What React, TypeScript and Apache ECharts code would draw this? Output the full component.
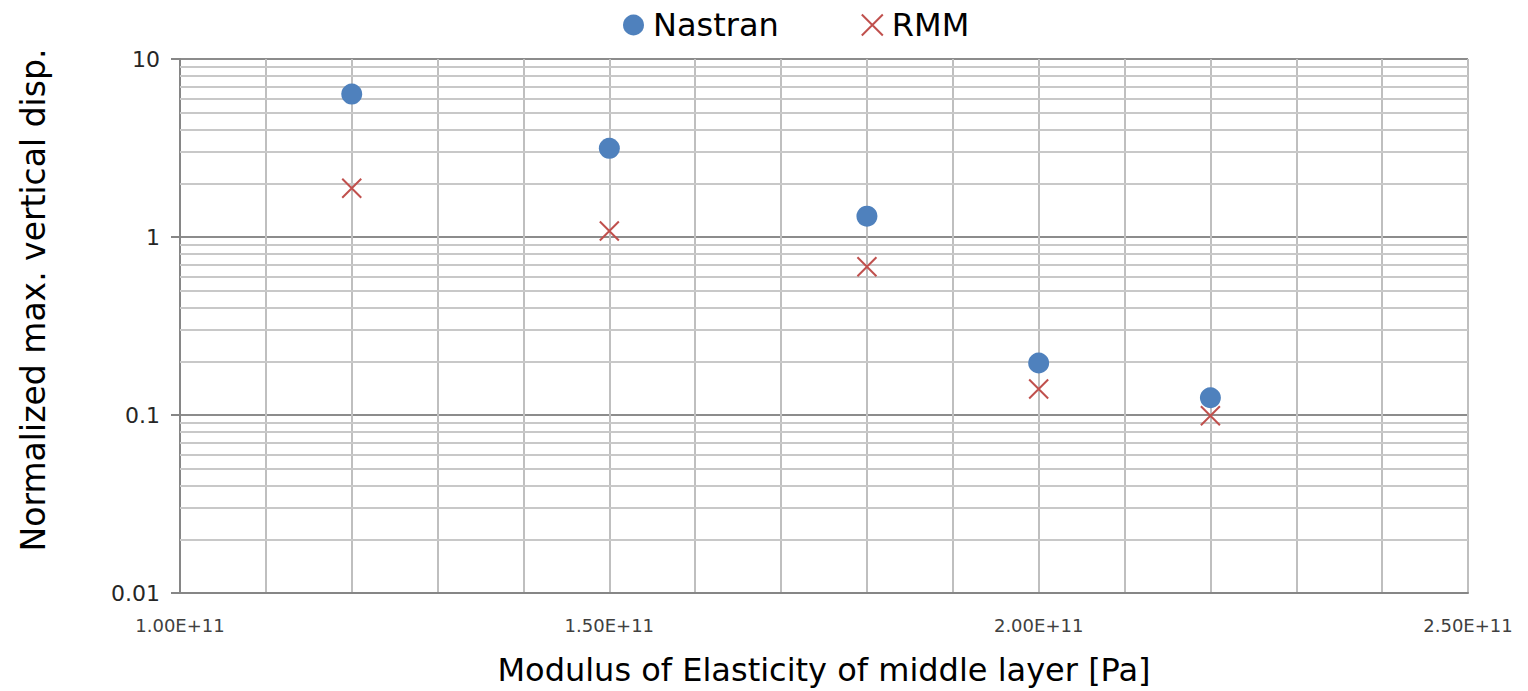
import React, { useEffect, useRef } from "react";
import * as echarts from "echarts";

const xValues = [1.2e11, 1.5e11, 1.8e11, 2.0e11, 2.2e11];
const nastran = [6.35, 3.15, 1.31, 0.196, 0.125];
const rmm = [1.88, 1.08, 0.68, 0.14, 0.099];
const decades = [0.01, 0.1, 1];
const minorMultipliers = [2, 3, 4, 5, 6, 7, 8, 9];
const minorGridValues = decades.flatMap((d) => minorMultipliers.map((m) => +(d * m).toPrecision(3)));

const FONT = "DejaVu Sans";

export default function App() {
  const ref = useRef<HTMLDivElement>(null);
  useEffect(() => {
    document.body.style.margin = "0";
    if (!ref.current) return;
    const chart = echarts.init(ref.current, undefined, { renderer: "svg" });
    const crossPath = "path://M0,0L10,10M10,0L0,10";
    chart.setOption({
      animation: false,
      textStyle: { fontFamily: FONT },
      legend: {
        top: 4,
        left: 618,
        itemGap: 82,
        itemWidth: 21,
        itemHeight: 21,
        textStyle: { fontSize: 32, color: "#000", fontFamily: FONT, padding: [0, 0, 0, 4] },
        data: [
          { name: "Nastran", icon: "circle" },
          { name: "RMM", icon: crossPath },
        ],
      },
      graphic: [
        {
          type: "text",
          x: 33,
          y: 300,
          rotation: Math.PI / 2,
          style: {
            text: "Normalized max. vertical disp.",
            fontSize: 33,
            fontFamily: FONT,
            fill: "#000",
            align: "center",
            verticalAlign: "middle",
          },
        },
      ],
      grid: { left: 180, right: 60, top: 59, bottom: 98 },
      xAxis: {
        type: "value",
        min: 1e11,
        max: 2.5e11,
        interval: 1e10,
        name: "Modulus of Elasticity of middle layer [Pa]",
        nameLocation: "middle",
        nameGap: 61,
        nameTextStyle: { fontSize: 32, color: "#000", fontFamily: FONT },
        axisLine: { lineStyle: { color: "#868686", width: 2 } },
        axisTick: { show: false },
        axisLabel: {
          fontSize: 18,
          color: "#404040",
          margin: 23,
          formatter: (v: number) => {
            if (Math.round(v / 1e10) % 5 !== 0) return "";
            const m = v / 1e11;
            return m.toFixed(2) + "E+11";
          },
        },
        splitLine: { show: true, lineStyle: { color: "#BFBFBF", width: 2 } },
      },
      yAxis: {
        type: "log",
        logBase: 10,
        min: 0.01,
        max: 10,
        axisLine: { show: true, lineStyle: { color: "#868686", width: 2 } },
        axisTick: { show: true, length: 9, inside: false, lineStyle: { color: "#868686", width: 2 } },
        axisLabel: {
          fontSize: 22,
          color: "#262626",
          margin: 20,
          formatter: (v: number) => String(+v.toPrecision(3)),
        },
        splitLine: { show: true, lineStyle: { color: "#8C8C8C", width: 2 } },
      },
      series: [
        {
          name: "Nastran",
          type: "scatter",
          symbol: "circle",
          symbolSize: 21,
          itemStyle: { color: "#4F81BD", opacity: 1 },
          data: xValues.map((x, i) => [x, nastran[i]]),
          z: 3,
          markLine: {
            silent: true,
            symbol: "none",
            label: { show: false },
            lineStyle: { color: "#C8C8C8", width: 2, type: "solid" },
            data: minorGridValues.map((v) => ({ yAxis: v })),
            z: 1,
          },
        },
        {
          name: "RMM",
          type: "scatter",
          symbol: crossPath,
          symbolSize: 19,
          itemStyle: { color: "transparent", borderColor: "#C0504D", borderWidth: 2, opacity: 1 },
          data: xValues.map((x, i) => [x, rmm[i]]),
          z: 4,
        },
      ],
    });
    return () => chart.dispose();
  }, []);
  return <div ref={ref} style={{ width: 1528, height: 691 }} />;
}
